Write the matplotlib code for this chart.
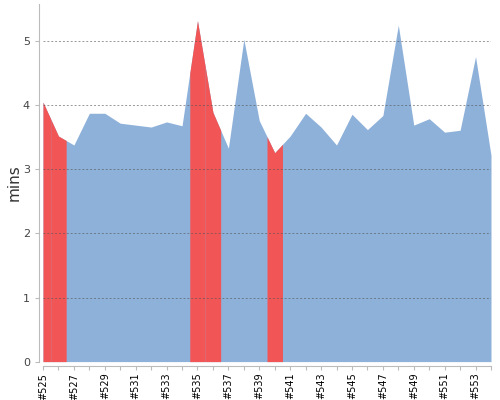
import numpy as np
import matplotlib
matplotlib.use('Agg')
import matplotlib.pyplot as plt

# Datos: número de build y duración en minutos
builds = list(range(525, 555))
mins = [4.05, 3.52, 3.38, 3.875, 3.875, 3.72, 3.69, 3.66, 3.74, 3.68,
        5.32, 3.89, 3.33, 5.03, 3.76, 3.26, 3.52, 3.875, 3.66, 3.38,
        3.86, 3.62, 3.84, 5.25, 3.69, 3.79, 3.58, 3.61, 4.76, 3.22]
failed = [525, 526, 535, 536, 540]

blue = '#8EB1DA'
red = '#F25555'

x = np.arange(len(builds))
y = np.array(mins)

fig = plt.figure(figsize=(5, 4), dpi=100)
ax = fig.add_axes([0.086, 0.096, 0.896, 0.894])

# Área completa en azul
ax.fill_between(x, 0, y, color=blue, linewidth=0, zorder=1)

# Builds fallidos en rojo (medio paso a cada lado)
for b in failed:
    i = builds.index(b)
    a0 = max(0, i - 0.5)
    a1 = min(len(builds) - 1, i + 0.5)
    xs = np.array([a0, i, a1])
    ax.fill_between(xs, 0, np.interp(xs, x, y), color=red, linewidth=0, zorder=2)

ax.set_xlim(0, len(builds) - 1)
ax.set_ylim(0, 5.58)

ax.set_xticks(x)
ax.set_xticklabels([f'#{b}' if (b - 525) % 2 == 0 else '' for b in builds])
ax.set_yticks(range(6))
ax.tick_params(axis='y', labelsize=8, labelcolor='#444444', color='#bbbbbb', length=3)
ax.tick_params(axis='x', color='#bbbbbb', length=3, labelsize=7,
               labelrotation=90, labelcolor='black', pad=2)

for yv in range(1, 6):
    ax.axhline(yv, color='#555555', linestyle=(0, (2, 2)), linewidth=0.7, alpha=0.6, zorder=3)

ax.set_ylabel('mins', fontsize=11, color='#333333', labelpad=1)

for s in ['top', 'right']:
    ax.spines[s].set_visible(False)
for s in ['left', 'bottom']:
    ax.spines[s].set_color('#bbbbbb')
    ax.spines[s].set_position(('outward', 3))

fig.savefig('out.png', dpi=100)
